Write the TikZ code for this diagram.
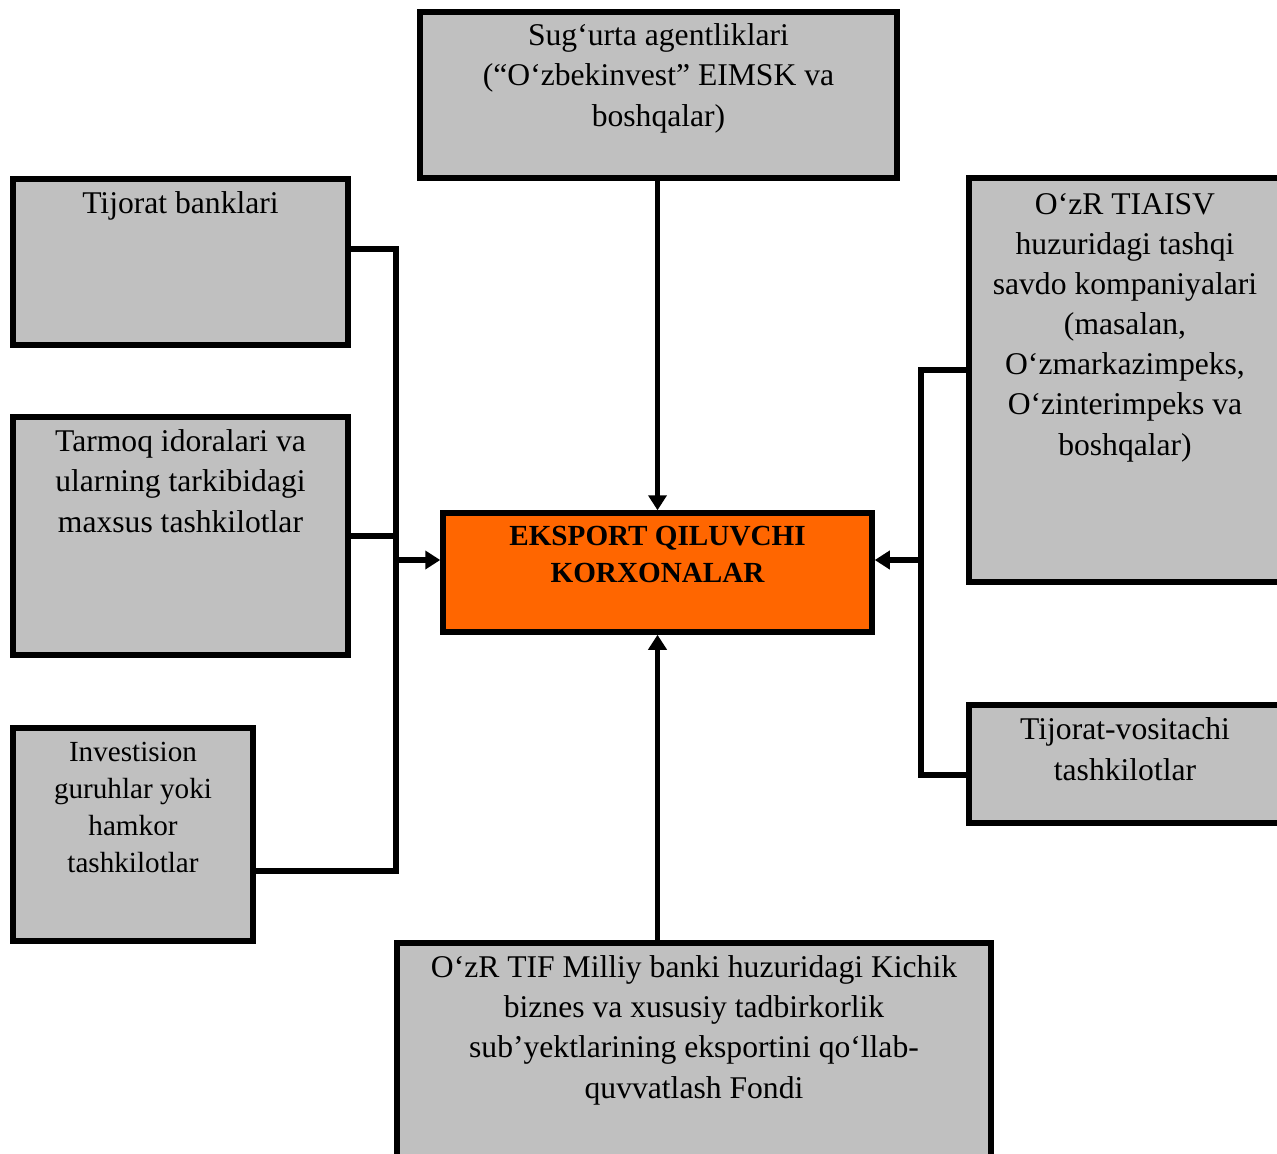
\documentclass[tikz,border=0pt]{standalone}
\usepackage{fontspec}
\setmainfont{Liberation Serif}
\usetikzlibrary{arrows.meta,fit}
\definecolor{boxgray}{HTML}{C0C0C0}
\definecolor{coreorange}{HTML}{FF6600}
\begin{document}
\begin{tikzpicture}[
		x=0.02cm, y=-0.02cm,
		box/.style={draw, line width=0.11cm, fill=boxgray, inner sep=0pt},
		core/.style={box, fill=coreorange},
		txt/.style={align=center, anchor=base, inner sep=0pt, font=\fontsize{18}{22.8}\selectfont},
		small/.style={txt, font=\fontsize{16.6}{20.9}\selectfont},
		link/.style={line width=0.11cm},
		arr/.style={link, -{Triangle[length=0.3cm,width=0.36cm]}}
	]
	\clip (0,0) rectangle (1277,1153);
	% boxes
	\node[box, fit={(420,12) (897,178)}] (sugurta) {};
	\node[box, fit={(13,179) (348,345)}] (banks) {};
	\node[box, fit={(13,417) (348,655)}] (tarmoq) {};
	\node[box, fit={(13,728) (253,941)}] (invest) {};
	\node[core, fit={(443,513) (872,632)}] (export) {};
	\node[box, fit={(969,178) (1281,582)}] (tiaisv) {};
	\node[box, fit={(969,705) (1281,823)}] (vositachi) {};
	\node[box, fit={(397,943) (991,1175)}] (fond) {};

	% texts (base = last line)
	\node[txt] (sugurta-t) at (sugurta.north |- 0,126) {Sug‘urta agentliklari\\(“O‘zbekinvest” EIMSK va\\boshqalar)};
	\node[txt] (banks-t) at (banks.north |- 0,213) {Tijorat banklari};
	\node[txt] (tarmoq-t) at (tarmoq.north |- 0,532) {Tarmoq idoralari va\\ularning tarkibidagi\\maxsus tashkilotlar};
	\node[small] (invest-t) at (invest.north |- 0,872) {Investision\\guruhlar yoki\\hamkor\\tashkilotlar};
	\node[small, font=\fontsize{16.6}{20.9}\selectfont\bfseries] (export-t) at (export.north |- 0,582) {EKSPORT QILUVCHI\\KORXONALAR};
	\node[txt] (tiaisv-t) at (tiaisv.north |- 0,455) {O‘zR TIAISV\\huzuridagi tashqi\\savdo kompaniyalari\\(masalan,\\O‘zmarkazimpeks,\\O‘zinterimpeks va\\boshqalar)};
	\node[txt] (vositachi-t) at (vositachi.north |- 0,780) {Tijorat-vositachi\\tashkilotlar};
	\node[txt] (fond-t) at (fond.north |- 0,1098) {O‘zR TIF Milliy banki huzuridagi Kichik\\biznes va xususiy tadbirkorlik\\sub’yektlarining eksportini qo‘llab-\\quvvatlash Fondi};

	% left bus
	\coordinate (busL-top) at (396,249);
	\coordinate (busL-bot) at (396,871);
	\coordinate (busL-in) at (396,560);
	\draw[link] (banks.east |- busL-top) -- (busL-top) -- (busL-bot) -- (invest.east |- busL-bot);
	\draw[link] (tarmoq.east) -- (tarmoq.east -| busL-top);
	\draw[arr] (busL-in) -- (busL-in -| export.west);

	% right bus
	\coordinate (busR-top) at (921,370);
	\coordinate (busR-bot) at (921,775);
	\coordinate (busR-in) at (921,560);
	\draw[link] (tiaisv.west |- busR-top) -- (busR-top) -- (busR-bot) -- (vositachi.west |- busR-bot);
	\draw[arr] (busR-in) -- (busR-in -| export.east);

	% top and bottom
	\draw[arr] (sugurta.south -| export.north) -- (export.north);
	\draw[arr] (fond.north -| export.south) -- (export.south);
\end{tikzpicture}
\end{document}
